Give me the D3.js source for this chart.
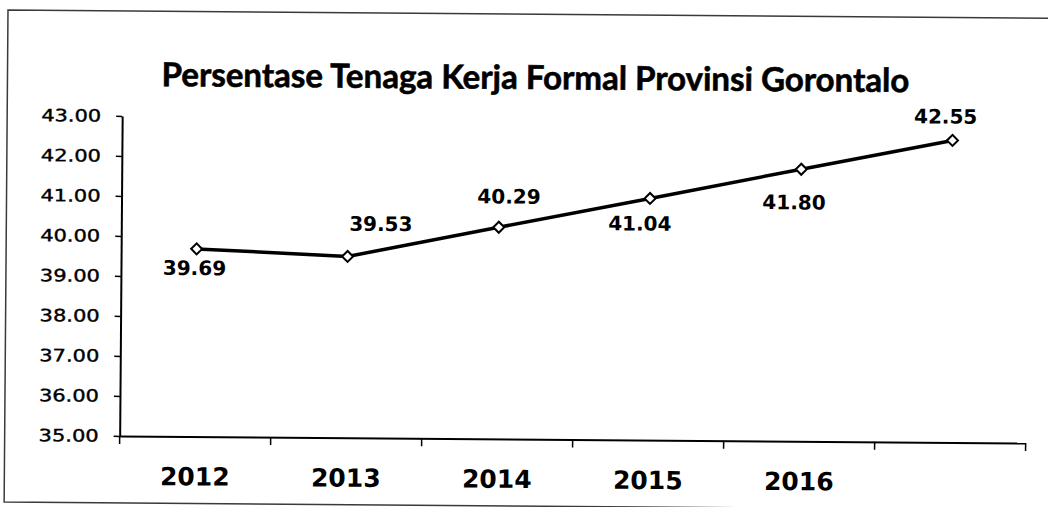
<!DOCTYPE html>
<html>
<head>
<meta charset="utf-8">
<script src="https://cdn.jsdelivr.net/npm/d3@7"></script>
<style>
  html, body { margin: 0; padding: 0; background: #fff; }
  svg { display: block; }
</style>
</head>
<body>
<svg id="chart" width="1048" height="507"></svg>
<script>
// Share of formal workers, Gorontalo province (percent)
const years = ["2012", "2013", "2014", "2015", "2016", "2017"];
const yearLabels = ["2012", "2013", "2014", "2015", "2016", ""];
const values = [39.69, 39.53, 40.29, 41.04, 41.80, 42.55];
const valueLabels = ["39.69", "39.53", "40.29", "41.04", "41.80", "42.55"];
const yTicks = [35, 36, 37, 38, 39, 40, 41, 42, 43];
const titleText = "Persentase Tenaga Kerja Formal Provinsi Gorontalo";

// where each value label sits relative to its marker (dx, dy of label centre)
const labelPlacement = [[-2, 19], [33, -33], [10, -31], [-10, 25], [-7, 33], [-7, -24]];

const svg = d3.select("#chart");
const root = svg.append("g").attr("transform", "rotate(0.45, 8, 10)");

const plot = { left: 123, right: 1029, top: 115, bottom: 435 };

// frame around the chart area
root.append("path")
  .attr("d", `M1060,10 H8 V502 H1060`)
  .attr("fill", "none")
  .attr("stroke", "#3a3a3a")
  .attr("stroke-width", 1.5);

// title, sized to its line width
const title = root.append("text")
  .attr("x", 536).attr("y", 85)
  .attr("text-anchor", "middle")
  .attr("font-family", "Lato, 'Open Sans', sans-serif")
  .attr("font-weight", 700)
  .attr("font-size", 28)
  .attr("fill", "#000")
  .attr("stroke", "#000")
  .attr("stroke-width", 0.6)
  .text(titleText);
const tw = title.node().getComputedTextLength();
title.attr("font-size", 28 * 748 / tw);

const x = d3.scaleBand().domain(years).range([plot.left, plot.right]).paddingInner(0).paddingOuter(0);
const y = d3.scaleLinear().domain([35, 43]).range([plot.bottom, plot.top]);

// y axis
const yAxis = root.append("g")
  .attr("transform", `translate(${plot.left},0)`)
  .call(d3.axisLeft(y).tickValues(yTicks).tickSize(6).tickSizeOuter(0).tickPadding(15)
    .tickFormat(d3.format(".2f")));
yAxis.select(".domain").attr("stroke", "#000").attr("stroke-width", 2);
yAxis.selectAll(".tick line").attr("stroke", "#000").attr("stroke-width", 1.5);
yAxis.selectAll("text")
  .attr("font-family", "'DejaVu Sans', Verdana, sans-serif")
  .attr("font-size", 17)
  .attr("fill", "#000")
  .attr("stroke", "#000")
  .attr("stroke-width", 0.4)
  .attr("textLength", 60)
  .attr("lengthAdjust", "spacingAndGlyphs");

// x axis: labels centred in each category, ticks on category boundaries
const xAxis = root.append("g")
  .attr("transform", `translate(0,${plot.bottom})`)
  .call(d3.axisBottom(x).tickSize(0).tickSizeOuter(0)
    .tickFormat((d, i) => yearLabels[i]));
xAxis.select(".domain").attr("stroke", "#000").attr("stroke-width", 2);
xAxis.selectAll("text")
  .attr("y", 49).attr("dy", null)
  .attr("font-family", "'DejaVu Sans', Verdana, sans-serif")
  .attr("font-weight", 700)
  .attr("font-size", 25)
  .attr("fill", "#000");

const boundaries = years.map(d => x(d)).concat([x.range()[1]]);
xAxis.selectAll(".bound")
  .data(boundaries)
  .join("line")
  .attr("class", "bound")
  .attr("x1", d => d).attr("x2", d => d)
  .attr("y1", 0).attr("y2", 8)
  .attr("stroke", "#000").attr("stroke-width", 1.5);

// series line
const cx = d => x(d) + x.bandwidth() / 2;
const line = d3.line().x((v, i) => cx(years[i])).y(v => y(v));
root.append("path")
  .datum(values)
  .attr("d", line)
  .attr("fill", "none")
  .attr("stroke", "#000")
  .attr("stroke-width", 3.5)
  .attr("stroke-linejoin", "round");

// diamond markers
const marker = d3.symbol(d3.symbolSquare).size(60);
root.selectAll(".mk")
  .data(values)
  .join("path")
  .attr("class", "mk")
  .attr("d", marker)
  .attr("transform", (v, i) => `translate(${cx(years[i])},${y(v)}) rotate(45)`)
  .attr("fill", "#fff")
  .attr("stroke", "#000")
  .attr("stroke-width", 2);

// value labels
root.selectAll(".vl")
  .data(values)
  .join("text")
  .attr("class", "vl")
  .attr("x", (v, i) => cx(years[i]) + labelPlacement[i][0])
  .attr("y", (v, i) => y(v) + labelPlacement[i][1])
  .attr("dy", "0.36em")
  .attr("text-anchor", "middle")
  .attr("font-family", "'DejaVu Sans', Verdana, sans-serif")
  .attr("font-weight", 700)
  .attr("font-size", 20)
  .attr("fill", "#000")
  .text((v, i) => valueLabels[i]);
</script>
</body>
</html>
